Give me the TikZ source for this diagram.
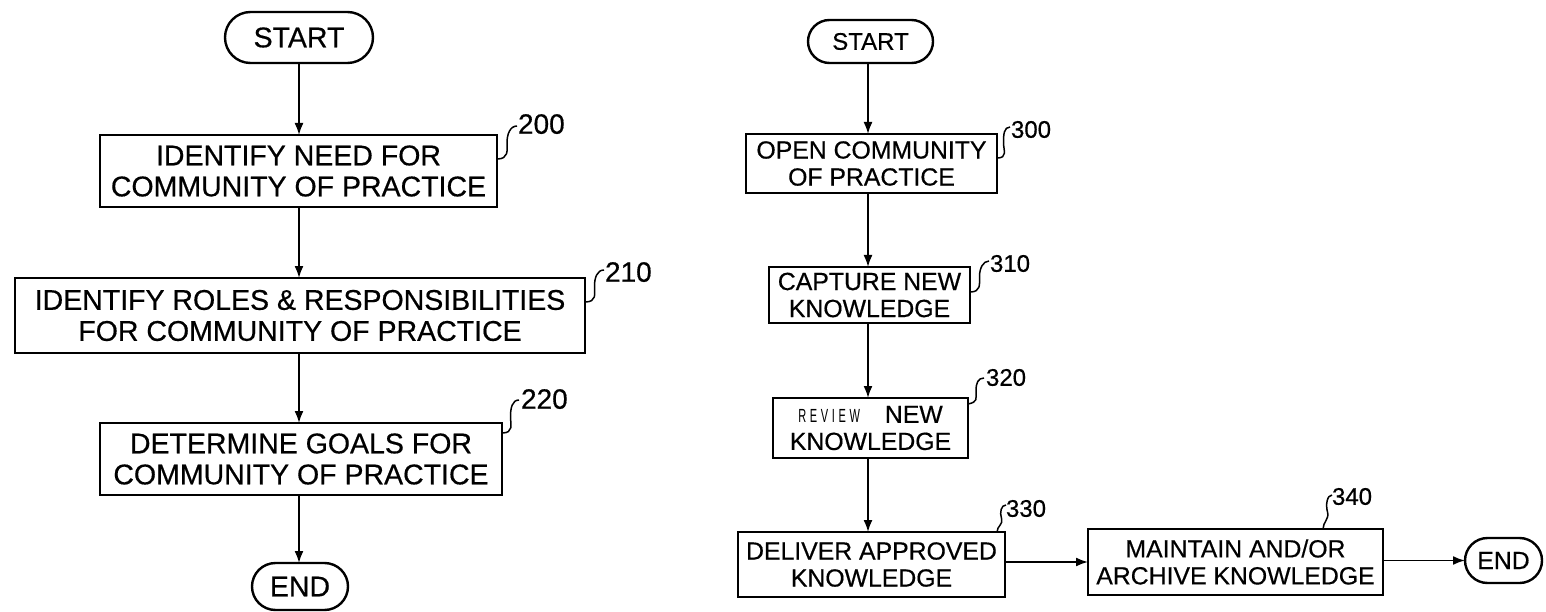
\documentclass[tikz,border=0pt]{standalone}
\usepackage{fontspec}
\setmainfont{Liberation Sans}[FakeBold=0.5]
\newfontfamily\handfont{Liberation Sans}
\usetikzlibrary{shapes.misc,arrows.meta,calc}
\begin{document}
\begin{tikzpicture}[x=1pt,y=-1pt,
  every node/.style={inner sep=0pt,outer sep=0pt},
  stepbox/.style={draw,line width=2.6pt,align=center},
  term/.style={draw,line width=2.4pt,rounded rectangle,align=center},
  bigtxt/.style={font=\fontsize{28.5}{31}\selectfont},
  smalltxt/.style={font=\fontsize{24.8}{27}\selectfont},
  refbig/.style={font=\fontsize{28}{28}\selectfont,anchor=south west},
  refsmall/.style={font=\fontsize{24}{24}\selectfont,anchor=south west},
  flow/.style={line width=1.8pt,-{Latex[length=12pt,width=9pt]}},
  leader/.style={line width=1.5pt}
]
\useasboundingbox (0,0) rectangle (1546,612);

% ---------- left chart ----------
\node[term,bigtxt,minimum width=148pt,minimum height=51pt] (s1) at (299,37.5) {START};
\node[stepbox,bigtxt,minimum width=397pt,minimum height=72pt] (b200) at (298.5,171)
  {IDENTIFY NEED FOR\\COMMUNITY OF PRACTICE};
\node[stepbox,bigtxt,minimum width=570pt,minimum height=75pt] (b210) at (300,315.5)
  {IDENTIFY ROLES \& RESPONSIBILITIES\\FOR COMMUNITY OF PRACTICE};
\node[stepbox,bigtxt,minimum width=402pt,minimum height=72pt] (b220) at (301,459)
  {DETERMINE GOALS FOR\\COMMUNITY OF PRACTICE};
\node[term,bigtxt,minimum width=96pt,minimum height=47pt] (e1) at (300,586.5) {END};

\draw[flow] (s1.south) -- (s1.south |- b200.north);
\draw[flow] (b200.south -| s1.south) -- (s1.south |- b210.north);
\draw[flow] (b210.south -| s1.south) -- (s1.south |- b220.north);
\draw[flow] (b220.south -| s1.south) -- (s1.south |- e1.north);

% reference numerals, left
\coordinate (a200) at (497,159); \coordinate (t200) at (517,126);
\node[refbig] (n200) at (518,134) {200};
\draw[leader] (a200) .. controls +(12,0) and +(0,8) .. ($(a200)!0.5!(t200)$)
  .. controls +(0,-8) and +(-7,0) .. (t200);
\coordinate (a210) at (585,302); \coordinate (t210) at (604,270);
\node[refbig] (n210) at (605,282) {210};
\draw[leader] (a210) .. controls +(12,0) and +(0,8) .. ($(a210)!0.5!(t210)$)
  .. controls +(0,-8) and +(-7,0) .. (t210);
\coordinate (a220) at (502,433); \coordinate (t220) at (519,400);
\node[refbig] (n220) at (521,409) {220};
\draw[leader] (a220) .. controls +(12,0) and +(0,8) .. ($(a220)!0.5!(t220)$)
  .. controls +(0,-8) and +(-7,0) .. (t220);

% ---------- right chart ----------
\node[term,smalltxt,font=\fontsize{24}{24}\selectfont,minimum width=125pt,minimum height=43pt] (s2) at (870.5,41.5) {START};
\node[stepbox,smalltxt,minimum width=251pt,minimum height=59pt] (b300) at (871.5,163.5)
  {OPEN COMMUNITY\\OF PRACTICE};
\node[stepbox,smalltxt,minimum width=201pt,minimum height=56pt] (b310) at (869.5,295)
  {CAPTURE NEW\\KNOWLEDGE};
\node[stepbox,smalltxt,minimum width=195pt,minimum height=60pt] (b320) at (870.5,428)
  {{\handfont\fontsize{19}{19}\selectfont\scalebox{0.58}[1]{R\,\,E\,\,V\,\,I\,\,E\,\,W}}\quad NEW\\KNOWLEDGE};
\node[stepbox,smalltxt,minimum width=267pt,minimum height=65pt] (b330) at (871.5,564.5)
  {DELIVER APPROVED\\KNOWLEDGE};
\node[stepbox,smalltxt,minimum width=295pt,minimum height=66pt] (b340) at (1235.5,562)
  {MAINTAIN AND/OR\\ARCHIVE KNOWLEDGE};
\node[term,smalltxt,minimum width=77pt,minimum height=45pt] (e2) at (1503.5,560.5) {END};

\draw[flow] (s2.south -| 868,0) -- (868,0 |- b300.north);
\draw[flow] (b300.south -| 868,0) -- (868,0 |- b310.north);
\draw[flow] (b310.south -| 868,0) -- (868,0 |- b320.north);
\draw[flow] (b320.south -| 868,0) -- (868,0 |- b330.north);
\draw[flow] (b330.east |- 0,562) -- (b340.west |- 0,562);
\draw[flow] (b340.east |- 0,560.5) -- (e2.west);

% reference numerals, right
\coordinate (a300) at (997,158); \coordinate (t300) at (1010,127);
\node[refsmall] (n300) at (1011,138) {300};
\draw[leader] (a300) .. controls +(11,0) and +(0,8) .. ($(a300)!0.5!(t300)$)
  .. controls +(0,-8) and +(-6,0) .. (t300);
\coordinate (a310) at (970,292); \coordinate (t310) at (989,261);
\node[refsmall] (n310) at (990,272) {310};
\draw[leader] (a310) .. controls +(11,0) and +(0,8) .. ($(a310)!0.5!(t310)$)
  .. controls +(0,-8) and +(-6,0) .. (t310);
\coordinate (a320) at (968,404); \coordinate (t320) at (984,378);
\node[refsmall] (n320) at (986,386) {320};
\draw[leader] (a320) .. controls +(10,-2) and +(0,8) .. ($(a320)!0.5!(t320)$)
  .. controls +(0,-8) and +(-6,0) .. (t320);
\coordinate (a330) at (997,532); \coordinate (t330) at (1006,505);
\node[refsmall] (n330) at (1006,517) {330};
\draw[leader] (a330) .. controls +(0,-6) and +(2,6) .. ($(a330)!0.5!(t330)$)
  .. controls +(-2,-6) and +(-5,0) .. (t330);
\coordinate (a340) at (1323,529); \coordinate (t340) at (1332,495);
\node[refsmall] (n340) at (1332,505) {340};
\draw[leader] (a340) .. controls +(0,-7) and +(2,7) .. ($(a340)!0.5!(t340)$)
  .. controls +(-2,-7) and +(-5,0) .. (t340);
\end{tikzpicture}
\end{document}
